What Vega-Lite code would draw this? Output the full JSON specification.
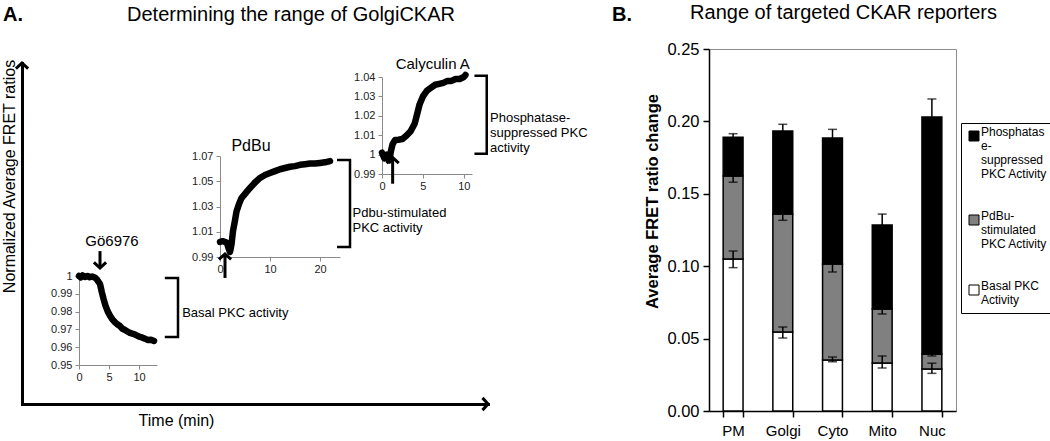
{
  "$schema": "https://vega.github.io/schema/vega-lite/v6.json",
  "padding": {"left": 0, "top": 2, "right": 0, "bottom": 0},
  "background": "white",
  "config": {
    "font": "Liberation Sans",
    "view": {"stroke": null},
    "title": {"font": "Liberation Sans", "color": "black"},
    "axis": {"grid": false, "labelFont": "Liberation Sans", "titleFont": "Liberation Sans"}
  },
  "datasets": {
    "go": [{"t":0,"v":1.0},{"t":0.3,"v":0.9992},{"t":0.6,"v":1.0003},{"t":1.0,"v":0.9995},{"t":1.4,"v":1.0},{"t":1.8,"v":0.9993},{"t":2.2,"v":0.9997},{"t":2.7,"v":0.999},{"t":3.0,"v":0.998},{"t":3.5,"v":0.9955},{"t":3.8,"v":0.991},{"t":4.1,"v":0.987},{"t":4.4,"v":0.9835},{"t":4.8,"v":0.98},{"t":5.2,"v":0.9775},{"t":5.6,"v":0.9755},{"t":6.0,"v":0.974},{"t":6.4,"v":0.9728},{"t":6.8,"v":0.972},{"t":7.2,"v":0.9705},{"t":7.6,"v":0.9698},{"t":8.0,"v":0.969},{"t":8.5,"v":0.968},{"t":9.0,"v":0.9675},{"t":9.5,"v":0.9668},{"t":10.0,"v":0.966},{"t":10.5,"v":0.9655},{"t":11.0,"v":0.9648},{"t":11.5,"v":0.964},{"t":12.0,"v":0.9642},{"t":12.5,"v":0.9635}],
    "pdbu": [{"t":0,"v":1.002},{"t":0.5,"v":1.0025},{"t":1.0,"v":1.002},{"t":1.4,"v":1.001},{"t":1.7,"v":0.997},{"t":2.0,"v":0.994},{"t":2.3,"v":1.0},{"t":2.6,"v":1.0106},{"t":3.0,"v":1.019},{"t":3.3,"v":1.026},{"t":3.8,"v":1.032},{"t":4.3,"v":1.0367},{"t":5,"v":1.04},{"t":6,"v":1.0447},{"t":7,"v":1.049},{"t":8,"v":1.0526},{"t":9,"v":1.055},{"t":10,"v":1.0565},{"t":11,"v":1.058},{"t":12,"v":1.0595},{"t":13,"v":1.0605},{"t":14,"v":1.0615},{"t":15,"v":1.062},{"t":16,"v":1.063},{"t":17,"v":1.0635},{"t":18,"v":1.064},{"t":19,"v":1.064},{"t":20,"v":1.0645},{"t":21,"v":1.065},{"t":22,"v":1.066}],
    "caly": [{"t":0,"v":1.001},{"t":0.3,"v":0.998},{"t":0.6,"v":1.0},{"t":0.9,"v":0.997},{"t":1.1,"v":1.002},{"t":1.3,"v":1.0055},{"t":1.6,"v":1.0075},{"t":2.0,"v":1.0077},{"t":2.5,"v":1.008},{"t":3.0,"v":1.0098},{"t":3.5,"v":1.012},{"t":4.0,"v":1.016},{"t":4.3,"v":1.021},{"t":4.6,"v":1.026},{"t":5.0,"v":1.03},{"t":5.5,"v":1.033},{"t":6.0,"v":1.0345},{"t":6.5,"v":1.036},{"t":7.0,"v":1.0365},{"t":7.5,"v":1.037},{"t":8.0,"v":1.038},{"t":8.5,"v":1.038},{"t":9.0,"v":1.039},{"t":9.5,"v":1.039},{"t":10.0,"v":1.04},{"t":10.2,"v":1.041}],
    "bars": [
      {"site":"PM","activity":"Basal PKC Activity","value":0.105,"layer":1},
      {"site":"PM","activity":"PdBu-stimulated PKC Activity","value":0.0573,"layer":2},
      {"site":"PM","activity":"Phosphatase-suppressed PKC Activity","value":0.0267,"layer":3},
      {"site":"Golgi","activity":"Basal PKC Activity","value":0.0546,"layer":1},
      {"site":"Golgi","activity":"PdBu-stimulated PKC Activity","value":0.0814,"layer":2},
      {"site":"Golgi","activity":"Phosphatase-suppressed PKC Activity","value":0.0574,"layer":3},
      {"site":"Cyto","activity":"Basal PKC Activity","value":0.0352,"layer":1},
      {"site":"Cyto","activity":"PdBu-stimulated PKC Activity","value":0.0663,"layer":2},
      {"site":"Cyto","activity":"Phosphatase-suppressed PKC Activity","value":0.087,"layer":3},
      {"site":"Mito","activity":"Basal PKC Activity","value":0.0331,"layer":1},
      {"site":"Mito","activity":"PdBu-stimulated PKC Activity","value":0.0373,"layer":2},
      {"site":"Mito","activity":"Phosphatase-suppressed PKC Activity","value":0.058,"layer":3},
      {"site":"Nuc","activity":"Basal PKC Activity","value":0.029,"layer":1},
      {"site":"Nuc","activity":"PdBu-stimulated PKC Activity","value":0.0104,"layer":2},
      {"site":"Nuc","activity":"Phosphatase-suppressed PKC Activity","value":0.1636,"layer":3}
    ],
    "errs": [
      {"site":"PM","activity":"Basal","lo":0.099,"hi":0.1105},
      {"site":"PM","activity":"PdBu","lo":0.158,"hi":0.165},
      {"site":"PM","activity":"Phosphatase","lo":0.187,"hi":0.1915},
      {"site":"Golgi","activity":"Basal","lo":0.0504,"hi":0.058},
      {"site":"Golgi","activity":"PdBu","lo":0.1317,"hi":0.14},
      {"site":"Golgi","activity":"Phosphatase","lo":0.189,"hi":0.198},
      {"site":"Cyto","activity":"Basal","lo":0.034,"hi":0.0373},
      {"site":"Cyto","activity":"PdBu","lo":0.096,"hi":0.107},
      {"site":"Cyto","activity":"Phosphatase","lo":0.1825,"hi":0.1945},
      {"site":"Mito","activity":"Basal","lo":0.0297,"hi":0.038},
      {"site":"Mito","activity":"PdBu","lo":0.067,"hi":0.074},
      {"site":"Mito","activity":"Phosphatase","lo":0.121,"hi":0.136},
      {"site":"Nuc","activity":"Basal","lo":0.026,"hi":0.033},
      {"site":"Nuc","activity":"PdBu","lo":0.038,"hi":0.041},
      {"site":"Nuc","activity":"Phosphatase","lo":0.1905,"hi":0.2155}
    ]
  },
  "bounds": "flush",
  "spacing": 0,
  "hconcat": [
    {
      "width": 57, "height": 355,
      "title": {"text": "A.", "anchor": "start", "frame": "group", "dx": -19, "fontSize": 20, "fontWeight": "bold", "offset": 8, "baseline": "alphabetic"},
      "data": {"values": [{}]},
      "layer": [
        {
          "mark": {"type": "point", "shape": "M-1,0.9L0,0L1,0.9", "filled": false, "color": "black", "strokeWidth": 3, "size": 150, "opacity": 1},
          "encoding": {
            "x": {"datum": 0, "type": "quantitative", "scale": {"domain": [0, 1], "range": [0, 466], "nice": false},
              "axis": {"orient": "bottom", "domainColor": "black", "domainWidth": 3, "domainCap": "square", "ticks": false, "labels": false, "title": "Time (min)", "titleFontSize": 16, "titleFontWeight": "normal", "titleColor": "black", "titlePadding": 8, "titleX": 154, "titleAlign": "center"}},
            "y": {"datum": 1, "type": "quantitative", "scale": {"domain": [0, 1], "range": [355, 14], "nice": false},
              "axis": {"orient": "left", "domainColor": "black", "domainWidth": 3, "domainCap": "square", "ticks": false, "labels": false, "title": "Normalized Average FRET ratios", "titleFontSize": 16, "titleFontWeight": "normal", "titleColor": "black", "titlePadding": 5, "titleY": 127}}
          }
        },
        {
          "mark": {"type": "point", "shape": "M-0.9,-1L0,0L-0.9,1", "filled": false, "color": "black", "strokeWidth": 3, "size": 150, "opacity": 1},
          "encoding": {"x": {"datum": 1, "type": "quantitative"}, "y": {"datum": 0, "type": "quantitative"}}
        }
      ]
    },
    {
      "width": 141, "height": 355,
      "layer": [
        {
          "data": {"name": "go"},
          "mark": {"type": "line", "color": "black", "strokeWidth": 6.5, "strokeJoin": "round", "strokeCap": "round", "clip": false},
          "encoding": {
            "x": {"field": "t", "type": "quantitative", "scale": {"domain": [0, 13], "range": [0, 78], "nice": false},
              "axis": {"title": null, "values": [0, 5, 10], "offset": -39, "domainColor": "#8a8a8a", "tickColor": "#8a8a8a", "tickSize": 4, "labelFontSize": 11, "labelColor": "#222", "labelPadding": 2, "labelFlush": false}},
            "y": {"field": "v", "type": "quantitative", "scale": {"domain": [0.95, 1], "range": [316, 227], "nice": false, "zero": false},
              "axis": {"title": null, "values": [0.95, 0.96, 0.97, 0.98, 0.99, 1], "format": "~g", "domainColor": "#8a8a8a", "tickColor": "#8a8a8a", "tickSize": 4, "labelFontSize": 11, "labelColor": "#222", "labelPadding": 3}}
          }
        },
        {
          "data": {"values": [{}]},
          "mark": {"type": "rule", "color": "black", "strokeWidth": 3},
          "encoding": {"x": {"datum": 3.5}, "y": {"datum": 1.014}, "y2": {"datum": 1.005}}
        },
        {
          "data": {"values": [{}]},
          "mark": {"type": "point", "shape": "M-1,-0.9L0,0L1,-0.9", "filled": false, "color": "black", "strokeWidth": 3, "size": 150, "opacity": 1},
          "encoding": {"x": {"datum": 3.5}, "y": {"datum": 1.0045}}
        },
        {
          "data": {"values": [{}]},
          "mark": {"type": "text", "text": "Gö6976", "fontSize": 15, "align": "center", "baseline": "middle", "color": "black"},
          "encoding": {"x": {"datum": 5.5}, "y": {"datum": 1.0197}}
        },
        {
          "data": {"values": [{"t": 14.3, "v": 0.9989, "o": 1}, {"t": 16.5, "v": 0.9989, "o": 2}, {"t": 16.5, "v": 0.9657, "o": 3}, {"t": 14.3, "v": 0.9657, "o": 4}]},
          "mark": {"type": "line", "color": "black", "strokeWidth": 2.5, "clip": false},
          "encoding": {"x": {"field": "t", "type": "quantitative"}, "y": {"field": "v", "type": "quantitative"}, "order": {"field": "o"}}
        },
        {
          "data": {"values": [{}]},
          "mark": {"type": "text", "text": "Basal PKC activity", "fontSize": 13, "align": "left", "baseline": "middle", "color": "black"},
          "encoding": {"x": {"datum": 17.2}, "y": {"datum": 0.979}}
        }
      ]
    },
    {
      "width": 162, "height": 355,
      "title": {"text": "Determining the range of GolgiCKAR", "anchor": "middle", "frame": "group", "dx": -10, "fontSize": 20, "fontWeight": "normal", "offset": 8, "baseline": "alphabetic"},
      "layer": [
        {
          "data": {"name": "pdbu"},
          "mark": {"type": "line", "color": "black", "strokeWidth": 6.5, "strokeJoin": "round", "strokeCap": "round", "clip": false},
          "encoding": {
            "x": {"field": "t", "type": "quantitative", "scale": {"domain": [0, 24], "range": [0, 120], "nice": false},
              "axis": {"title": null, "values": [0, 10, 20], "offset": -147, "domainColor": "#8a8a8a", "tickColor": "#8a8a8a", "tickSize": 4, "labelFontSize": 11, "labelColor": "#222", "labelPadding": 2, "labelFlush": false}},
            "y": {"field": "v", "type": "quantitative", "scale": {"domain": [0.99, 1.07], "range": [208, 107], "nice": false, "zero": false},
              "axis": {"title": null, "values": [0.99, 1.01, 1.03, 1.05, 1.07], "format": "~g", "domainColor": "#8a8a8a", "tickColor": "#8a8a8a", "tickSize": 4, "labelFontSize": 11, "labelColor": "#222", "labelPadding": 3}}
          }
        },
        {
          "data": {"values": [{}]},
          "mark": {"type": "rule", "color": "black", "strokeWidth": 3},
          "encoding": {"x": {"datum": 1}, "y": {"datum": 0.9734}, "y2": {"datum": 0.992}}
        },
        {
          "data": {"values": [{}]},
          "mark": {"type": "point", "shape": "M-1,0.9L0,0L1,0.9", "filled": false, "color": "black", "strokeWidth": 3, "size": 150, "opacity": 1},
          "encoding": {"x": {"datum": 1}, "y": {"datum": 0.9924}}
        },
        {
          "data": {"values": [{}]},
          "mark": {"type": "text", "text": "PdBu", "fontSize": 16, "align": "center", "baseline": "middle", "color": "black"},
          "encoding": {"x": {"datum": 6.2}, "y": {"datum": 1.0779}}
        },
        {
          "data": {"values": [{"t": 23.4, "v": 1.0668, "o": 1}, {"t": 26, "v": 1.0668, "o": 2}, {"t": 26, "v": 0.9979, "o": 3}, {"t": 23.4, "v": 0.9979, "o": 4}]},
          "mark": {"type": "line", "color": "black", "strokeWidth": 2.5, "clip": false},
          "encoding": {"x": {"field": "t", "type": "quantitative"}, "y": {"field": "v", "type": "quantitative"}, "order": {"field": "o"}}
        },
        {
          "data": {"values": [{}]},
          "mark": {"type": "text", "text": "Pdbu-stimulated\nPKC activity", "lineBreak": "\n", "lineHeight": 15, "fontSize": 13, "align": "left", "baseline": "middle", "color": "black"},
          "encoding": {"x": {"datum": 26.5}, "y": {"datum": 1.0245}}
        }
      ]
    },
    {
      "width": 327, "height": 355,
      "title": {"text": "B.", "anchor": "end", "frame": "group", "dx": -77, "fontSize": 20, "fontWeight": "bold", "offset": 8, "baseline": "alphabetic"},
      "layer": [
        {
          "data": {"name": "caly"},
          "mark": {"type": "line", "color": "black", "strokeWidth": 6.5, "strokeJoin": "round", "strokeCap": "round", "clip": false},
          "encoding": {
            "x": {"field": "t", "type": "quantitative", "scale": {"domain": [0, 11], "range": [0, 90], "nice": false},
              "axis": {"title": null, "values": [0, 5, 10], "offset": -230, "domainColor": "#8a8a8a", "tickColor": "#8a8a8a", "tickSize": 4, "labelFontSize": 11, "labelColor": "#222", "labelPadding": 2, "labelFlush": false}},
            "y": {"field": "v", "type": "quantitative", "scale": {"domain": [0.99, 1.04], "range": [125, 28], "nice": false, "zero": false},
              "axis": {"title": null, "values": [0.99, 1, 1.01, 1.02, 1.03, 1.04], "format": "~g", "domainColor": "#8a8a8a", "tickColor": "#8a8a8a", "tickSize": 4, "labelFontSize": 11, "labelColor": "#222", "labelPadding": 3}}
          }
        },
        {
          "data": {"values": [{}]},
          "mark": {"type": "rule", "color": "black", "strokeWidth": 3},
          "encoding": {"x": {"datum": 1.3}, "y": {"datum": 0.985}, "y2": {"datum": 0.998}}
        },
        {
          "data": {"values": [{}]},
          "mark": {"type": "point", "shape": "M-1,0.9L0,0L1,0.9", "filled": false, "color": "black", "strokeWidth": 3, "size": 150, "opacity": 1},
          "encoding": {"x": {"datum": 1.3}, "y": {"datum": 0.9985}}
        },
        {
          "data": {"values": [{}]},
          "mark": {"type": "text", "text": "Calyculin A", "fontSize": 15, "align": "center", "baseline": "middle", "color": "black"},
          "encoding": {"x": {"datum": 6.2}, "y": {"datum": 1.0469}}
        },
        {
          "data": {"values": [{"t": 11.3, "v": 1.0407, "o": 1}, {"t": 12.8, "v": 1.0407, "o": 2}, {"t": 12.8, "v": 1.0005, "o": 3}, {"t": 11.3, "v": 1.0005, "o": 4}]},
          "mark": {"type": "line", "color": "black", "strokeWidth": 2.5, "clip": false},
          "encoding": {"x": {"field": "t", "type": "quantitative"}, "y": {"field": "v", "type": "quantitative"}, "order": {"field": "o"}}
        },
        {
          "data": {"values": [{}]},
          "mark": {"type": "text", "text": "Phosphatase-\nsuppressed PKC\nactivity", "lineBreak": "\n", "lineHeight": 15, "fontSize": 13, "align": "left", "baseline": "middle", "color": "black"},
          "encoding": {"x": {"datum": 13.2}, "y": {"datum": 1.019}}
        }
      ]
    },
    {
      "width": 247, "height": 362,
      "view": {"stroke": "#8c8c8c", "strokeWidth": 1},
      "title": {"text": "Range of targeted CKAR reporters", "anchor": "middle", "frame": "group", "dx": 11, "fontSize": 20, "fontWeight": "normal", "offset": 2, "baseline": "alphabetic"},
      "layer": [
        {
          "data": {"name": "bars"},
          "mark": {"type": "bar", "stroke": "black", "strokeWidth": 1.5},
          "encoding": {
            "x": {"field": "site", "type": "nominal", "sort": ["PM", "Golgi", "Cyto", "Mito", "Nuc"], "scale": {"paddingInner": 0.6, "paddingOuter": 0.285},
              "axis": {"title": null, "labelAngle": 0, "labelFontSize": 15, "labelColor": "black", "domainColor": "black", "domainWidth": 1.5, "tickColor": "black", "tickWidth": 1.5, "tickSize": 6, "tickBand": "extent", "labelPadding": 6}},
            "y": {"field": "value", "type": "quantitative", "stack": "zero", "scale": {"domain": [0, 0.25], "nice": false},
              "axis": {"title": "Average FRET ratio change", "values": [0, 0.05, 0.1, 0.15, 0.2, 0.25], "format": ".2f", "labelFontSize": 16.5, "labelColor": "black", "domainColor": "black", "domainWidth": 1.5, "tickColor": "black", "tickWidth": 1.5, "tickSize": 6, "labelPadding": 4, "titleFontSize": 16.5, "titleFontWeight": "bold", "titleColor": "black", "titlePadding": 6, "titleY": 152}},
            "color": {"field": "activity", "type": "nominal",
              "scale": {"domain": ["Phosphatase-suppressed PKC Activity", "PdBu-stimulated PKC Activity", "Basal PKC Activity"], "range": ["#000000", "#808080", "#ffffff"]},
              "legend": {"orient": "none", "legendX": 939, "legendY": 74, "title": null, "symbolType": "square", "symbolSize": 100, "symbolStrokeColor": "black", "symbolStrokeWidth": 1, "labelFontSize": 12, "labelColor": "black", "labelLimit": 200, "labelOffset": 1, "labelBaseline": "alphabetic", "rowPadding": 30, "padding": 7, "strokeColor": "black", "fillColor": "white",
                "labelExpr": "datum.label == 'Phosphatase-suppressed PKC Activity' ? ['Phosphatas', 'e-', 'suppressed', 'PKC Activity'] : datum.label == 'PdBu-stimulated PKC Activity' ? ['PdBu-', 'stimulated', 'PKC Activity'] : ['Basal PKC', 'Activity']"}},
            "order": {"field": "layer", "type": "quantitative"}
          }
        },
        {
          "data": {"name": "errs"},
          "mark": {"type": "errorbar", "color": "black", "ticks": {"size": 9, "thickness": 1.5, "color": "black"}, "rule": {"strokeWidth": 1.5, "color": "black"}},
          "encoding": {
            "x": {"field": "site", "type": "nominal", "sort": ["PM", "Golgi", "Cyto", "Mito", "Nuc"]},
            "y": {"field": "lo", "type": "quantitative", "title": "Average FRET ratio change"},
            "y2": {"field": "hi"}
          }
        }
      ]
    }
  ]
}
